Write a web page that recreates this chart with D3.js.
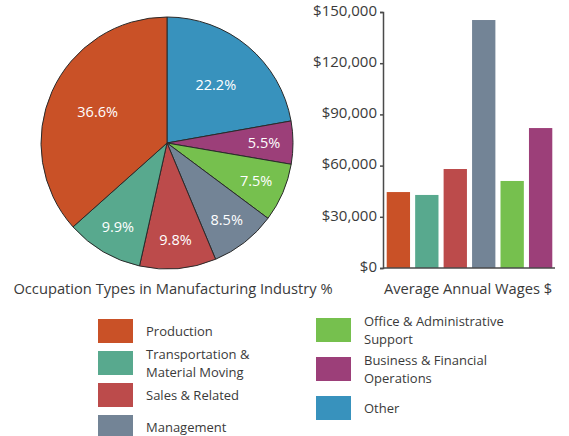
<!DOCTYPE html>
<html>
<head>
<meta charset="utf-8">
<script src="https://cdn.jsdelivr.net/npm/d3@7"></script>
<style>
  body { margin: 0; background: #fff; }
  text { font-family: "Open Sans", sans-serif; fill: #3a3a3a; }
  .axis path, .axis line { stroke: #4a4a4a; stroke-width: 1.5; }
  .axis text { font-size: 15px; fill: #3a3a3a; }
</style>
</head>
<body>
<div id="chart"></div>
<script>

// pie slices, clockwise from 12 o'clock
var pieNames = ["Other", "Business & Financial Operations", "Office & Administrative Support",
  "Management", "Sales & Related", "Transportation & Material Moving", "Production"];
var pieShares = [22.2, 5.5, 7.5, 8.5, 9.8, 9.9, 36.6];

// bars, left to right
var barNames = ["Production", "Transportation & Material Moving", "Sales & Related",
  "Management", "Office & Administrative Support", "Business & Financial Operations"];
var barWages = [44500, 42800, 58000, 145300, 51000, 82000];

var wageTicks = [0, 30000, 60000, 90000, 120000, 150000];

var colors = {
  "Production": "#c95127",
  "Transportation & Material Moving": "#58a98e",
  "Sales & Related": "#bc4b4b",
  "Management": "#738496",
  "Office & Administrative Support": "#76c04e",
  "Business & Financial Operations": "#9c3f79",
  "Other": "#3892bd"
};

// legend columns (label lines)
var legendLeft = [["Production"], ["Transportation &", "Material Moving"], ["Sales & Related"], ["Management"]];
var legendLeftKeys = ["Production", "Transportation & Material Moving", "Sales & Related", "Management"];
var legendRight = [["Office & Administrative", "Support"], ["Business & Financial", "Operations"], ["Other"]];
var legendRightKeys = ["Office & Administrative Support", "Business & Financial Operations", "Other"];

var svgWidth = 569;
var svgHeight = 436;

var svg = d3.select("#chart")
  .append("svg")
  .attr("width", svgWidth)
  .attr("height", svgHeight);

// ---- pie ----
var radius = 126;
var pieGroup = svg.append("g")
  .attr("transform", "translate(167, 143)");

var pie = d3.pie().sort(null).value(d => d);
var arcs = pie(pieShares);
var arc = d3.arc().innerRadius(0).outerRadius(radius);

pieGroup.selectAll("path")
  .data(arcs)
  .enter()
  .append("path")
  .attr("d", arc)
  .attr("fill", (d, i) => colors[pieNames[i]])
  .attr("stroke", "#2a2a2a")
  .attr("stroke-width", 1);

// big slices get labels closer to the middle
pieGroup.selectAll(".pielabel")
  .data(arcs)
  .enter()
  .append("text")
  .attr("class", "pielabel")
  .attr("transform", function(d) {
    var r = (d.endAngle - d.startAngle) > 1 ? 76 : 97;
    var c = d3.arc().innerRadius(r).outerRadius(r).centroid(d);
    return `translate(${c[0]}, ${c[1]})`;
  })
  .attr("text-anchor", "middle")
  .attr("dy", "0.35em")
  .style("fill", "#fff")
  .style("font-size", "14.5px")
  .text(d => d.data.toFixed(1) + "%");

svg.append("text")
  .attr("x", 173)
  .attr("y", 294)
  .attr("text-anchor", "middle")
  .style("font-size", "14.7px")
  .text("Occupation Types in Manufacturing Industry %");

// ---- bars ----
var xScale = d3.scaleBand()
  .domain(barNames)
  .range([385, 554])
  .paddingInner(0.18)
  .paddingOuter(0.06);

var yScale = d3.scaleLinear()
  .domain([0, 150000])
  .range([268, 12]);

var leftAxis = d3.axisLeft(yScale)
  .tickValues(wageTicks)
  .tickSize(3)
  .tickSizeOuter(3)
  .tickPadding(3)
  .tickFormat(d => "$" + d3.format(",")(d));

svg.selectAll(".bar")
  .data(barWages)
  .enter()
  .append("rect")
  .attr("class", "bar")
  .attr("x", (d, i) => xScale(barNames[i]))
  .attr("y", d => yScale(d))
  .attr("width", xScale.bandwidth())
  .attr("height", d => yScale(0) - yScale(d))
  .attr("fill", (d, i) => colors[barNames[i]]);

svg.append("g")
  .attr("class", "axis")
  .attr("transform", "translate(383, 0)")
  .call(leftAxis)
  .call(g => g.selectAll(".tick line").attr("stroke-width", 1))
  .call(g => g.selectAll(".tick text").attr("dy", "0.22em"));

svg.append("line")
  .attr("x1", 383)
  .attr("x2", 555)
  .attr("y1", yScale(0))
  .attr("y2", yScale(0))
  .attr("stroke", "#4a4a4a")
  .attr("stroke-width", 1.5);

svg.append("text")
  .attr("x", 468)
  .attr("y", 294)
  .attr("text-anchor", "middle")
  .style("font-size", "14.7px")
  .text("Average Annual Wages $");

// ---- legend ----
function drawLegend(labels, keys, x, y0, step) {
  var rows = svg.selectAll(null)
    .data(labels)
    .enter()
    .append("g")
    .attr("transform", (d, i) => `translate(${x}, ${y0 + i * step})`);

  rows.append("rect")
    .attr("width", 35)
    .attr("height", 24)
    .attr("fill", (d, i) => colors[keys[i]]);

  // one text per line
  rows.each(function(lines) {
    var top = lines.length > 1 ? 3 : 12;
    d3.select(this).selectAll("text")
      .data(lines)
      .enter()
      .append("text")
      .attr("x", 48)
      .attr("y", (d, i) => top + i * 18)
      .attr("dy", "0.35em")
      .style("font-size", "13px")
      .text(d => d);
  });
}

drawLegend(legendLeft, legendLeftKeys, 98, 319, 32);
drawLegend(legendRight, legendRightKeys, 316, 318, 39);

</script>
</body>
</html>
